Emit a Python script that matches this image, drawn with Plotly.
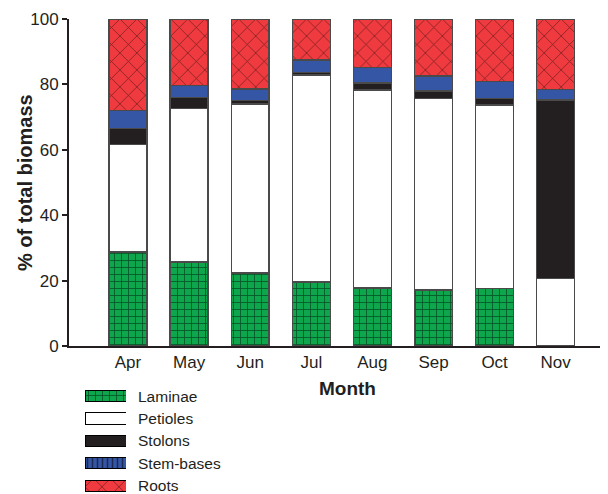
import plotly.graph_objects as go

# Monthly biomass partitioning (% of total), stacked bottom to top
months = ["Apr", "May", "Jun", "Jul", "Aug", "Sep", "Oct", "Nov"]
laminae = [28.7, 25.7, 22.3, 19.6, 17.7, 17.1, 17.6, 0.0]
petioles = [32.9, 47.0, 51.7, 63.3, 60.6, 58.6, 56.1, 20.7]
stolons = [5.0, 3.3, 1.0, 0.8, 2.1, 2.3, 2.0, 54.5]
stem_bases = [5.4, 3.7, 3.6, 3.8, 4.8, 4.6, 5.1, 3.3]
roots = [28.0, 20.3, 21.4, 12.5, 14.8, 17.4, 19.2, 21.5]

series_names = ["Laminae", "Petioles", "Stolons", "Stem-bases", "Roots"]
y_ticks = [0, 20, 40, 60, 80, 100]

W, H = 608, 494
FONT = "Liberation Sans, Arial, sans-serif"
INK = "#231f20"

styles = {
    "Laminae":    dict(color="#0ea64c", shape="+", size=7, solidity=0.22),
    "Petioles":   dict(color="#ffffff", shape="", size=8, solidity=0.2),
    "Stolons":    dict(color="#231f20", shape="", size=8, solidity=0.2),
    "Stem-bases": dict(color="#3555a5", shape="", size=8, solidity=0.2),
    "Roots":      dict(color="#ef3b3f", shape="x", size=12, solidity=0.12),
}
legend_shapes = {"Stem-bases": ("|", 5, 0.3)}

values = dict(zip(series_names, [laminae, petioles, stolons, stem_bases, roots]))

fig = go.Figure()

for name in series_names:
    st = styles[name]
    fig.add_trace(go.Bar(
        x=months, y=values[name], name=name, width=0.62,
        marker=dict(
            color=st["color"],
            line=dict(color="#4a4a4a", width=1.4),
            pattern=dict(shape=st["shape"], fgcolor="#000000", bgcolor=st["color"],
                         size=st["size"], solidity=st["solidity"], fillmode="overlay"),
        ),
        showlegend=False, xaxis="x", yaxis="y",
    ))

# Key drawn as a small subplot of wide swatches
for i, name in enumerate(series_names):
    st = styles[name]
    shp, sz, sol = legend_shapes.get(name, (st["shape"], st["size"], st["solidity"]))
    fig.add_trace(go.Bar(
        x=[1], y=[i], base=0, orientation="h", width=0.5,
        marker=dict(
            color=st["color"],
            line=dict(color="#000000", width=1),
            pattern=dict(shape=shp, fgcolor="#000000", bgcolor=st["color"],
                         size=sz, solidity=sol, fillmode="overlay"),
        ),
        showlegend=False, xaxis="x2", yaxis="y2", hoverinfo="skip",
    ))

annotations = [
    dict(text="<b>% of total biomass</b>", x=25 / W, y=1 - 183 / H, xref="paper", yref="paper",
         textangle=-90, showarrow=False, font=dict(size=20, family=FONT, color=INK),
         xanchor="center", yanchor="middle"),
    dict(text="<b>Month</b>", x=348 / W, y=1 - 388 / H, xref="paper", yref="paper",
         showarrow=False, font=dict(size=19, family=FONT, color=INK),
         xanchor="center", yanchor="middle"),
]
for i, name in enumerate(series_names):
    annotations.append(dict(
        text=name, x=136 / W, y=i, xref="paper", yref="y2", showarrow=False,
        xanchor="left", yanchor="middle", font=dict(size=15.5, family=FONT, color=INK),
    ))

fig.update_layout(
    width=W, height=H, margin=dict(l=0, r=0, t=0, b=0),
    paper_bgcolor="white", plot_bgcolor="white",
    barmode="stack", showlegend=False,
    font=dict(family=FONT, color=INK),
    xaxis=dict(
        domain=[69 / W, 600 / W], type="category", range=[-0.966, 7.725],
        showline=True, linecolor=INK, linewidth=2, ticks="", showgrid=False,
        tickfont=dict(size=17, family=FONT, color=INK), automargin=False,
    ),
    yaxis=dict(
        domain=[1 - 346 / H, 1 - 19 / H], range=[0, 100], tickvals=y_ticks,
        showline=True, linecolor=INK, linewidth=2, ticks="outside", ticklen=5,
        tickcolor=INK, tickwidth=1.5, showgrid=False, zeroline=False,
        tickfont=dict(size=17, family=FONT, color=INK), automargin=False,
    ),
    xaxis2=dict(domain=[85 / W, 126 / W], range=[0, 1], visible=False, fixedrange=True),
    yaxis2=dict(domain=[0, (H - 385) / H], range=[4.375, -0.5], visible=False,
                fixedrange=True, anchor="x2"),
    annotations=annotations,
)

fig.write_html("out.html")
